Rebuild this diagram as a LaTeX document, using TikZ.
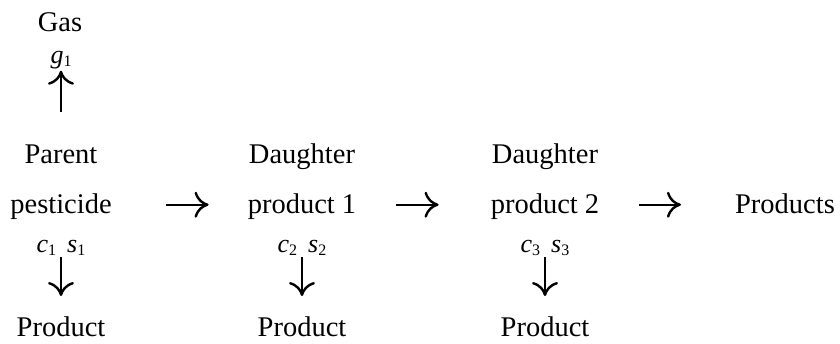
\documentclass[tikz,border=0pt]{standalone}
\usepackage{fontspec}
\setmainfont{Liberation Serif}
\usetikzlibrary{arrows.meta}
\newcommand\rt[2]{\textit{#1}\raisebox{-3pt}{\fontsize{16}{16}\selectfont #2}}
\begin{document}
\begin{tikzpicture}[x=1pt,y=-1pt,
  txt/.style={font=\fontsize{28.5}{34}\selectfont, inner sep=0, anchor=base},
  rate/.style={font=\fontsize{26}{30}\selectfont, inner sep=0, anchor=base},
  flow/.style={-{To[length=14pt,width=26pt,line width=2.4pt]}, line width=2pt}]
\useasboundingbox (0,0) rectangle (840,343);
\node[txt] (gas) at (60,31){Gas};
\node[rate] (g1) at (61,63){\rt{g}{1}};
\node[txt] (par) at (61,163){Parent};
\node[txt] (pest) at (61,213){pesticide};
\node[rate] (cs1) at (61,252){\rt{c}{1}\hspace{11pt}\rt{s}{1}};
\node[txt] (prd1) at (61,336){Product};
\draw[flow, shorten <=32pt, shorten >=2pt](par) -- (g1);
\draw[flow, shorten <=2pt, shorten >=20pt](cs1) -- (prd1);
\node[txt] (dau1) at (302,163){Daughter};
\node[txt] (pd1) at (302,213){product 1};
\node[rate] (cs2) at (302,252){\rt{c}{2}\hspace{11pt}\rt{s}{2}};
\node[txt] (prd2) at (302,336){Product};
\draw[flow, shorten <=2pt, shorten >=20pt](cs2) -- (prd2);
\node[txt] (dau2) at (545,163){Daughter};
\node[txt] (pd2) at (545,213){product 2};
\node[rate] (cs3) at (545,252){\rt{c}{3}\hspace{11pt}\rt{s}{3}};
\node[txt] (prd3) at (545,336){Product};
\draw[flow, shorten <=2pt, shorten >=20pt](cs3) -- (prd3);
\node[txt] (prods) at (785,213){Products};
\draw[flow, shorten <=54pt, shorten >=39pt]([yshift=6pt]pest.mid east) -- ([yshift=6pt]pd1.mid west);
\draw[flow, shorten <=40pt, shorten >=52pt]([yshift=6pt]pd1.mid east) -- ([yshift=6pt]pd2.mid west);
\draw[flow, shorten <=40pt, shorten >=54pt]([yshift=6pt]pd2.mid east) -- ([yshift=6pt]prods.mid west);
\end{tikzpicture}
\end{document}
